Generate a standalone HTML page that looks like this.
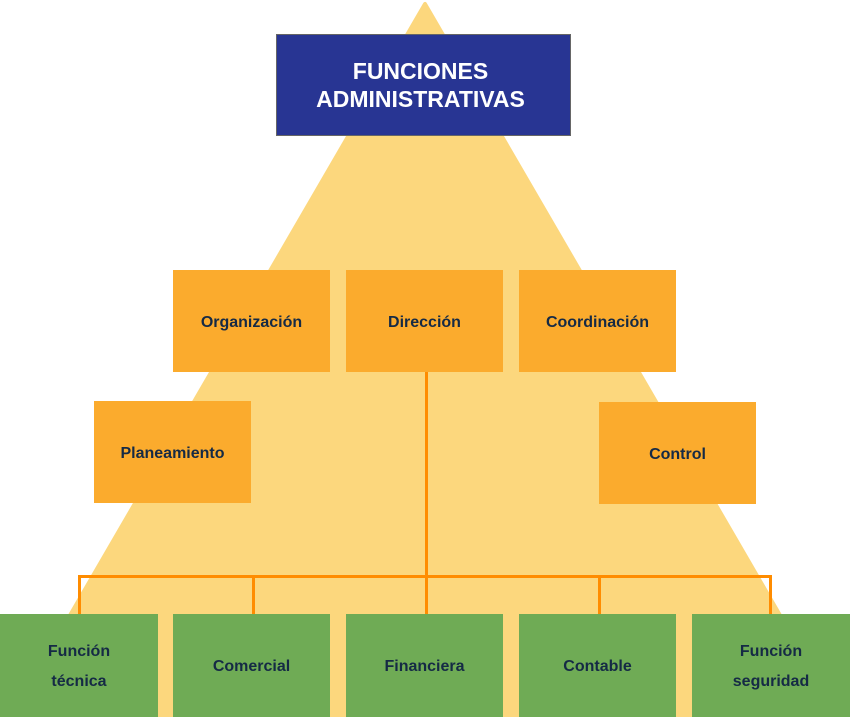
<!DOCTYPE html>
<html><head><meta charset="utf-8"><style>
body{margin:0;width:850px;height:717px;overflow:hidden;background:#fff;font-family:"Liberation Sans",sans-serif;}
.b{position:absolute;display:flex;align-items:center;justify-content:center;text-align:center;font-weight:bold;font-size:16px;color:#152a45;line-height:30px;box-sizing:border-box;padding-top:3px;}
.o{background:#fbab2d;}
.g{background:#6fab55;}
.l{position:absolute;background:#ff8c00;}
</style></head><body>
<svg width="850" height="717" style="position:absolute;left:0;top:0">
<polygon points="425,4 11,717 839,717" fill="#fcd77d" stroke="#fcd77d" stroke-linejoin="round" stroke-width="4"/>
</svg>
<div class="b" style="left:276px;top:34px;width:295px;height:102px;background:#283593;border:1px solid #666;color:#fff;font-size:23px;line-height:28px;padding-top:0;padding-right:6px;">FUNCIONES<br>ADMINISTRATIVAS</div>
<div class="l" style="left:425px;top:372px;width:3px;height:242px"></div>
<div class="l" style="left:78px;top:575px;width:694px;height:3px"></div>
<div class="l" style="left:78px;top:575px;width:3px;height:39px"></div>
<div class="l" style="left:252px;top:575px;width:3px;height:39px"></div>
<div class="l" style="left:598px;top:575px;width:3px;height:39px"></div>
<div class="l" style="left:769px;top:575px;width:3px;height:39px"></div>
<div class="b o" style="left:173px;top:270px;width:157px;height:102px">Organización</div>
<div class="b o" style="left:346px;top:270px;width:157px;height:102px">Dirección</div>
<div class="b o" style="left:519px;top:270px;width:157px;height:102px">Coordinación</div>
<div class="b o" style="left:94px;top:401px;width:157px;height:102px">Planeamiento</div>
<div class="b o" style="left:599px;top:402px;width:157px;height:102px">Control</div>
<div class="b g" style="left:0;top:614px;width:158px;height:103px">Función<br>técnica</div>
<div class="b g" style="left:173px;top:614px;width:157px;height:103px">Comercial</div>
<div class="b g" style="left:346px;top:614px;width:157px;height:103px">Financiera</div>
<div class="b g" style="left:519px;top:614px;width:157px;height:103px">Contable</div>
<div class="b g" style="left:692px;top:614px;width:158px;height:103px">Función<br>seguridad</div>
</body></html>
